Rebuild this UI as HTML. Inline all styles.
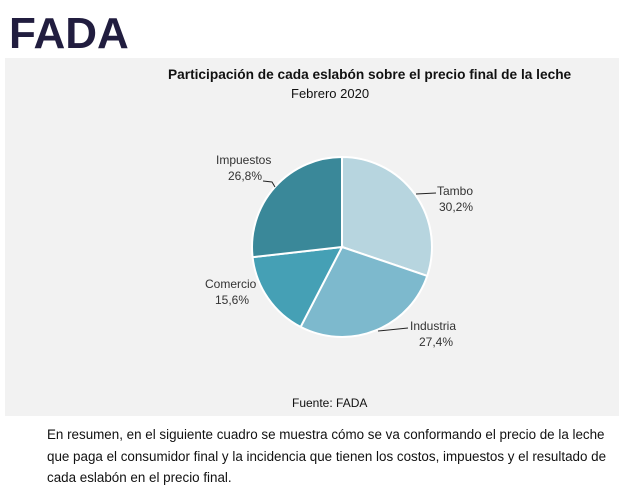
<!DOCTYPE html>
<html><head><meta charset="utf-8"><style>
body{margin:0;width:619px;height:494px;background:#fff;position:relative;overflow:hidden;font-family:"Liberation Sans",sans-serif}
.t{position:absolute;white-space:nowrap}
</style></head><body>
<div class="t" style="left:9px;top:11px;font-size:44px;font-weight:bold;color:#211d3f;letter-spacing:0px;line-height:46px">FADA</div>
<div style="position:absolute;left:5px;top:58px;width:614px;height:358px;background:#f2f2f2"></div>
<div class="t" style="left:168px;top:67px;font-size:13.7px;font-weight:bold;color:#111">Participación de cada eslabón sobre el precio final de la leche</div>
<div class="t" style="left:291px;top:86px;font-size:13px;color:#111">Febrero 2020</div>
<svg style="position:absolute;left:0;top:0" width="619" height="494">
<g stroke="#fff" stroke-width="2">
<path d="M342,247 L342,157 A90,90 0 0 1 427.2,275.9 Z" fill="#b7d5df"/>
<path d="M342,247 L427.2,275.9 A90,90 0 0 1 300.6,326.9 Z" fill="#7db9cd"/>
<path d="M342,247 L300.6,326.9 A90,90 0 0 1 252.6,257.2 Z" fill="#45a0b5"/>
<path d="M342,247 L252.6,257.2 A90,90 0 0 1 342,157 Z" fill="#3a8899"/>
</g>
<g stroke="#222" stroke-width="1" fill="none">
<path d="M416,194 L436,193"/>
<path d="M378,331 L408,328"/>
<path d="M263,181 L272,182 L275,187"/>
</g>
<g font-family="Liberation Sans,sans-serif" font-size="12" fill="#333">
<text x="437" y="195">Tambo</text><text x="439" y="211">30,2%</text>
<text x="410" y="330">Industria</text><text x="419" y="346">27,4%</text>
<text x="205" y="288">Comercio</text><text x="215" y="304">15,6%</text>
<text x="216" y="164">Impuestos</text><text x="228" y="180">26,8%</text>
</g>
</svg>
<div class="t" style="left:292px;top:396px;font-size:12px;color:#111">Fuente: FADA</div>
<div style="position:absolute;left:47px;top:424px;width:570px;font-size:13.4px;line-height:21.5px;color:#111">En resumen, en el siguiente cuadro se muestra cómo se va conformando el precio de la leche que paga el consumidor final y la incidencia que tienen los costos, impuestos y el resultado de cada eslabón en el precio final.</div>
</body></html>
